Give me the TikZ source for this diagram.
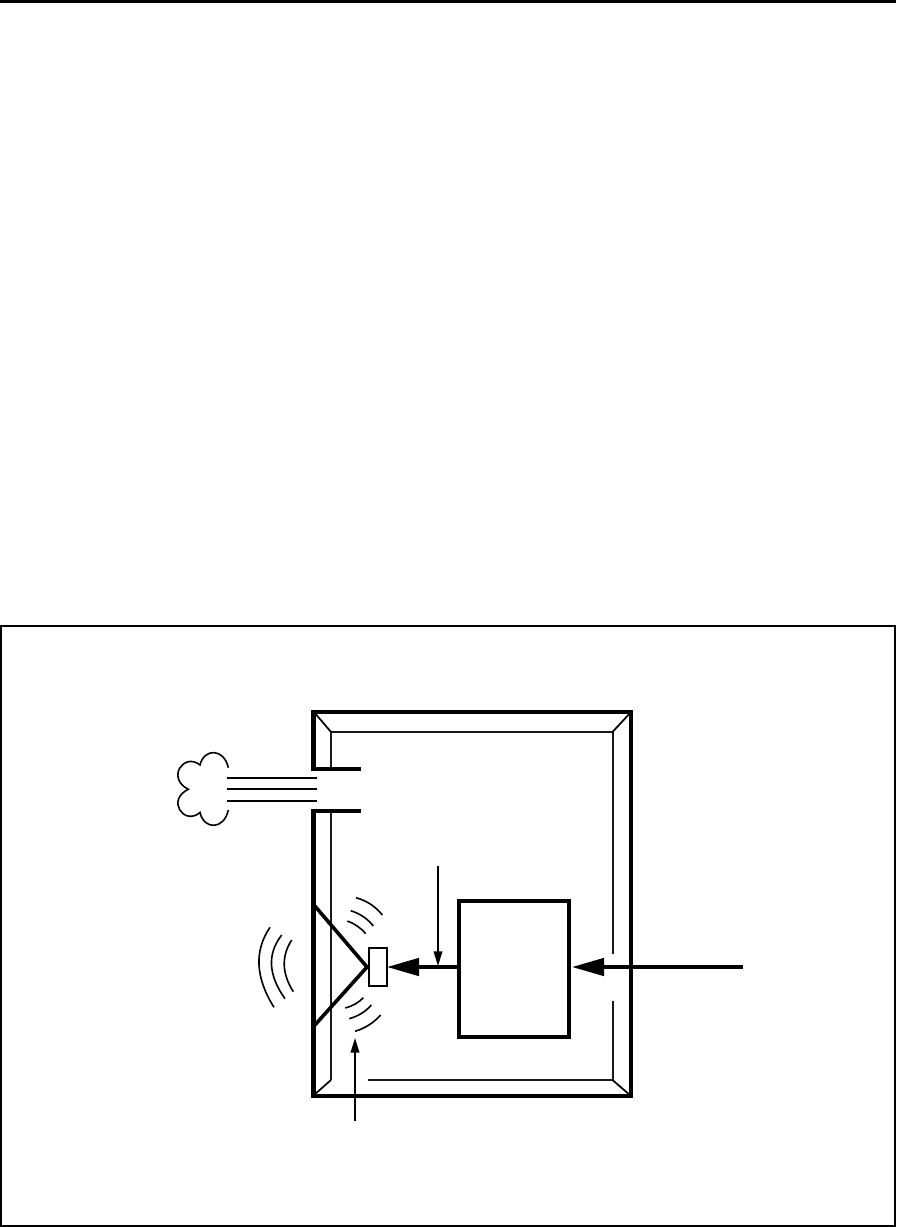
\documentclass[tikz,border=0pt]{standalone}
\usetikzlibrary{arrows.meta,calc}
\tikzset{
  x=0.75pt,y=-0.75pt,
  heavy/.style={line width=3.2pt,line cap=butt,line join=miter},
  inner line/.style={line width=1.5pt,black!90,line join=miter},
  bevel/.style={line width=1.3pt},
  wave/.style={line width=1.2pt,line cap=butt},
  exhaust/.style={line width=1.5pt},
  thick arrow/.style={line width=2.7pt,-{Triangle[length=24pt,width=13pt,sep=0pt]}},
  thin arrow/.style={line width=1.2pt,-{Triangle[length=11pt,width=6.5pt]}},
  amp/.style={draw,line width=3pt,minimum width=82.5pt,minimum height=102pt,inner sep=0pt,outer sep=0pt},
  driver/.style={draw,fill=white,line width=1.3pt,minimum width=13.5pt,minimum height=28.5pt,inner sep=0pt,outer sep=0pt},
}
\newcommand{\wavearc}[3]{\draw[wave] (#1) .. controls ($(#1)!0.667!(#2)$) and ($(#3)!0.667!(#2)$) .. (#3);}
\begin{document}
\begin{tikzpicture}
\useasboundingbox (0,0) rectangle (896,1227);
% page rule and outer frame
\fill (0,0) rectangle (896,3.5);
\draw[line width=1.5pt] (1,626) rectangle (894.5,1226);
% enclosure inner bevel
\draw[inner line] (331,769) -- (331,732) -- (612.5,732) -- (612.5,954);
\draw[inner line] (612.5,1001) -- (612.5,1080) -- (367.5,1080);
\draw[inner line] (331,811) -- (331,1080);
\draw[bevel] (314,712) -- (331,732);
\draw[bevel] (631,712) -- (612.5,732);
\draw[bevel] (631,1096) -- (612.5,1080);
\draw[bevel] (314,1095) -- (331,1080);
% enclosure
\draw[heavy] (361,769) -- (313.5,769) -- (313.5,712) -- (631,712) -- (631,1096) -- (313.5,1096) -- (313.5,811) -- (361,811);
% exhaust
\draw[exhaust] (227,778) -- (317,778);
\draw[exhaust] (227,789) -- (317,789);
\draw[exhaust] (227,800.5) -- (317,800.5);
\draw[wave] (228.3,767.7) .. controls (224,748) and (204,748) .. (200,765)
  .. controls (184,752) and (166,778) .. (188.3,789.3)
  .. controls (166,800) and (184,826) .. (200,812.5)
  .. controls (204,830) and (224,830) .. (228.3,810);
% speaker
\draw[line width=2.7pt,line join=miter] (314,905) -- (367,967) -- (314,1026);
\node[driver] (drv) at (377.7,967) {};
\node[amp] (ampbox) at (514,969) {};
% connectors
\coordinate (input) at (743,967);
\coordinate (ampin) at (572,967);
\coordinate (drvin) at (387,967);
\coordinate (ampout) at (458,967);
\coordinate (tapstart) at (438,866);
\coordinate (tapend) at (438,966);
\coordinate (sndstart) at (355,1121);
\coordinate (sndend) at (355,1038);
\draw[thick arrow] (input) -- (ampin);
\draw[thick arrow] (ampout) -- (drvin);
\draw[thin arrow] (tapstart) -- (tapend);
\draw[thin arrow] (sndstart) -- (sndend);
% waves left
\wavearc{270,927.3}{246,962.7}{274,1007.3}
\wavearc{281.7,935}{259.7,963.2}{285,998.7}
\wavearc{291.7,940}{276,964.2}{293.3,991.7}
% waves upper
\wavearc{356,897.7}{372.2,902.2}{382.3,915}
\wavearc{350.7,910.7}{364.6,915}{373.3,926}
\wavearc{347.3,921}{358,924.7}{365.7,933.7}
% waves lower
\wavearc{355,1031.3}{370,1026.8}{380.7,1015}
\wavearc{349.3,1018.7}{363,1014.7}{371.3,1005}
\wavearc{345.3,1008}{356.3,1005.1}{363.3,997.7}
\end{tikzpicture}
\end{document}
